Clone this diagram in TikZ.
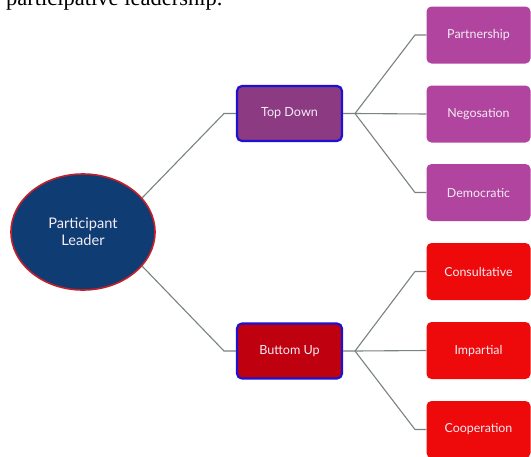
\documentclass[tikz,border=0pt]{standalone}
\usepackage{fontspec}
\setmainfont{Lato}
\newfontfamily\captionserif{Liberation Serif}
\definecolor{navy}{HTML}{0F3D73}
\definecolor{rimred}{HTML}{C41E2A}
\definecolor{plum}{HTML}{8C3A82}
\definecolor{darkred}{HTML}{BF000E}
\definecolor{rimblue}{HTML}{1E12D2}
\definecolor{orchid}{HTML}{B0449E}
\definecolor{brightred}{HTML}{EE0A0A}
\definecolor{wire}{HTML}{7A8282}
\definecolor{paletext}{HTML}{F4ECF4}
\tikzset{
  root/.style={ellipse, fill=navy, draw=rimred, line width=1.6pt,
    minimum width=144pt, minimum height=116pt, inner sep=0pt,
    text=paletext, font=\fontsize{14.6}{17}\selectfont, align=center},
  branch/.style={rectangle, rounded corners=5pt, draw=rimblue, line width=2.2pt,
    minimum width=105pt, minimum height=55pt, inner sep=0pt,
    text=paletext, font=\fontsize{12.6}{14}\selectfont},
  leaf/.style={rectangle, rounded corners=5pt, minimum width=104pt,
    minimum height=57pt, inner sep=0pt, text=paletext,
    font=\fontsize{12.4}{14}\selectfont},
  link/.style={draw=wire, line width=1.1pt}
}
\usetikzlibrary{shapes.geometric}
\begin{document}
\begin{tikzpicture}[x=1pt, y=-1pt]
\useasboundingbox (0,0) rectangle (531,456);
\clip (0,0) rectangle (531,456);
\fill[white] (0,0) rectangle (531,456);

% caption line above the chart
\node[anchor=base west, inner sep=0pt, font=\captionserif\fontsize{22.5}{24}\selectfont]
  (caption) at (6,5) {participative leadership.};

% root and the two branches
\node[root] (leader) at (83,232) {Participant\\Leader};
\node[branch, fill=plum] (top) at (289.5,113.5) {Top Down};
\node[branch, fill=darkred] (bottom) at (289.5,351) {Buttom Up};

% leaves
\node[leaf, fill=orchid] (partner) at (478.5,35) {Partnership};
\node[leaf, fill=orchid] (nego) at (478.5,114) {Negosation};
\node[leaf, fill=orchid] (demo) at (478.5,192.5) {Democratic};
\node[leaf, fill=brightred] (consult) at (478.5,271.5) {Consultative};
\node[leaf, fill=brightred] (impart) at (478.5,350.5) {Impartial};
\node[leaf, fill=brightred] (coop) at (478.5,429.5) {Cooperation};

% connectors from the root
\draw[link] (leader.30) -- (224,113.5) -- (top.west);
\draw[link] (leader.-30) -- (224,351) -- (bottom.west);

% connectors from Top Down
\coordinate (tfork) at (355,113.5);
\draw[link] (top.east) -- (tfork) -- (415,35) -- (partner.west);
\draw[link] (tfork) -- (nego.west);
\draw[link] (tfork) -- (415,192.5) -- (demo.west);

% connectors from Buttom Up
\coordinate (bfork) at (355,351);
\draw[link] (bottom.east) -- (bfork) -- (415,271.5) -- (consult.west);
\draw[link] (bfork) -- (impart.west);
\draw[link] (bfork) -- (415,429.5) -- (coop.west);
\end{tikzpicture}
\end{document}
